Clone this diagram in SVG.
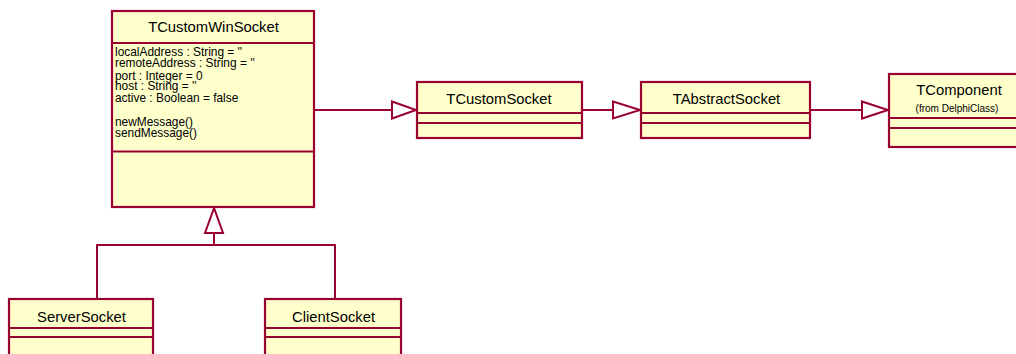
<svg xmlns="http://www.w3.org/2000/svg" width="1016" height="354" viewBox="0 0 1016 354">
<style>
.box{fill:#FFFFCC;stroke:#990033;stroke-width:2.2}
.div{stroke:#990033;stroke-width:2;fill:none}
.line{stroke:#990033;stroke-width:2;fill:none}
.tri{fill:#FFFFFF;stroke:#990033;stroke-width:2;stroke-linejoin:miter}
.title{font-family:"Liberation Sans",Arial,sans-serif;font-size:14.8px;fill:#000;text-anchor:middle}
.attr{font-family:"Liberation Sans",Arial,sans-serif;font-size:11.9px;fill:#000}
.small{font-family:"Liberation Sans",Arial,sans-serif;font-size:10px;fill:#000;text-anchor:middle}
</style>
<rect width="1016" height="354" fill="#FFFFFF"/>
<g id="connectors">
<path class="line" d="M315 110 H392"/>
<polygon class="tri" points="392,101.5 416,110 392,118.5"/>
<path class="line" d="M582 110 H613"/>
<polygon class="tri" points="613,101.5 640,110 613,118.5"/>
<path class="line" d="M810 110 H862"/>
<polygon class="tri" points="862,101.5 888,110 862,118.5"/>
<polygon class="tri" points="214,208 205,233 223,233"/>
<path class="line" d="M214 233 V245 M97 299 V245 H335 V299"/>
</g>
<g id="TCustomWinSocket">
<rect class="box" x="112" y="11" width="202" height="196"/>
<path class="div" d="M112 43 H314 M112 151.5 H314"/>
<text class="title" x="213.5" y="31.5">TCustomWinSocket</text>
<text class="attr" x="115" y="55.5">localAddress : String = ''</text>
<text class="attr" x="115" y="66.5">remoteAddress : String = ''</text>
<text class="attr" x="115" y="79.5">port : Integer = 0</text>
<text class="attr" x="115" y="89.5">host : String = ''</text>
<text class="attr" x="115" y="101.5">active : Boolean = false</text>
<text class="attr" x="115" y="126">newMessage()</text>
<text class="attr" x="115" y="137">sendMessage()</text>
</g>
<g id="TCustomSocket">
<rect class="box" x="417" y="82" width="165" height="56"/>
<path class="div" d="M417 113 H582 M417 123 H582"/>
<text class="title" x="499" y="103.5">TCustomSocket</text>
</g>
<g id="TAbstractSocket">
<rect class="box" x="641" y="82" width="169" height="56"/>
<path class="div" d="M641 113 H810 M641 123 H810"/>
<text class="title" x="726.5" y="104">TAbstractSocket</text>
</g>
<g id="TComponent">
<rect class="box" x="889" y="74" width="140" height="73"/>
<path class="div" d="M889 118 H1029 M889 128 H1029"/>
<text class="title" x="959" y="94.5" font-size="13.5">TComponent</text>
<text class="small" x="957" y="111.5">(from DelphiClass)</text>
</g>
<g id="ServerSocket">
<rect class="box" x="9" y="299" width="144" height="70"/>
<path class="div" d="M9 328 H153 M9 337 H153"/>
<text class="title" x="81.5" y="321.5">ServerSocket</text>
</g>
<g id="ClientSocket">
<rect class="box" x="265" y="299" width="136" height="70"/>
<path class="div" d="M265 328 H401 M265 337 H401"/>
<text class="title" x="333.5" y="321.5">ClientSocket</text>
</g>
</svg>
